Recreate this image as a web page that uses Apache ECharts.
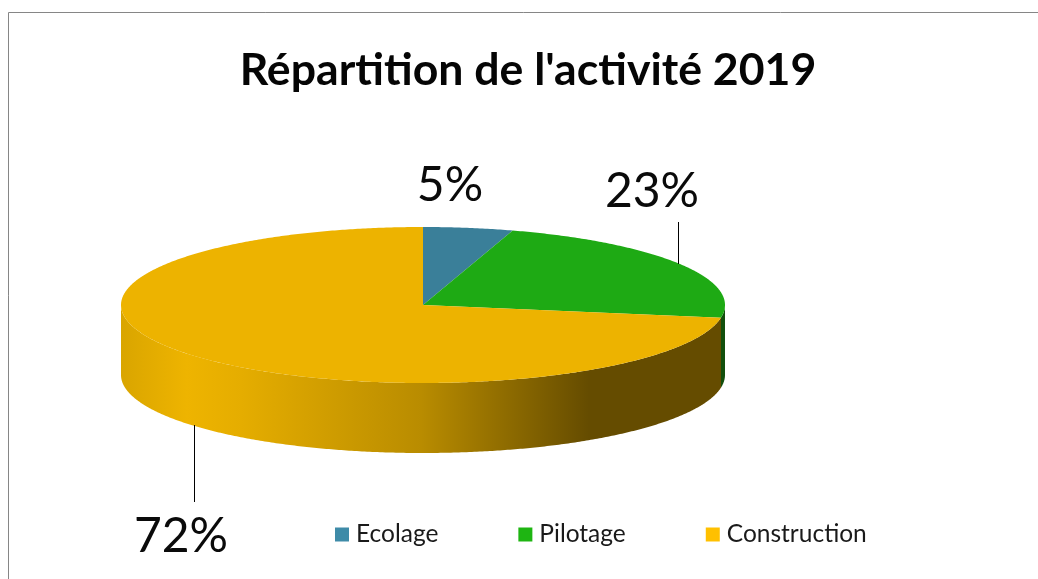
<!DOCTYPE html>
<html><head><meta charset="utf-8">
<style>html,body{margin:0;padding:0;background:#fff}#c{width:1038px;height:579px}</style>
<script src="https://cdn.jsdelivr.net/npm/echarts@6/dist/echarts.min.js"></script>
</head><body><div id="c"></div>
<script>
const titleText = "Répartition de l'activité 2019";
const categories = ['Ecolage', 'Pilotage', 'Construction'];
const values = [4.8, 22.8, 72.4];
const topColors = ['#3A7F99', '#1EAA14', '#EDB300'];
const legendColors = ['#3E8BA8', '#1EB512', '#FFC000'];
const labelPos = [[450, 186], [652, 192], [181, 537]];
const leaders = [null, [678.5, 222, 678.5, 264], [194.5, 425, 194.5, 502]];

const CX = 423, CY = 305, RX = 302, RY = 78, DEPTH = 70;
const FONT = 'Lato';
const total = values.reduce((a, b) => a + b, 0);
const pt = (deg, dy) => {
  const r = deg * Math.PI / 180;
  return [CX + RX * Math.sin(r), CY - RY * Math.cos(r) + (dy || 0)];
};
const sampleArc = (a0, a1, dy) => {
  const out = [], n = Math.max(2, Math.ceil((a1 - a0) * 2));
  for (let i = 0; i <= n; i++) out.push(pt(a0 + (a1 - a0) * i / n, dy));
  return out;
};
const spans = [];
values.reduce((acc, v) => { const e = acc + v / total * 360; spans.push([acc, e]); return e; }, 0);

const wallGradients = [
  null,
  '#124f0c',
  { type: 'linear', x: 0, y: 0, x2: 1, y2: 0, colorStops: [
    { offset: 0, color: '#d9a500' }, { offset: 0.11, color: '#eeb400' },
    { offset: 0.2, color: '#e5ad00' }, { offset: 0.5, color: '#b98c00' },
    { offset: 0.78, color: '#654c00' }, { offset: 1, color: '#654c00' } ] }
];

function renderSlice(i) {
  return function () {
    const [a0, a1] = spans[i];
    const children = [];
    const w0 = Math.max(a0, 90), w1 = Math.min(a1, 270);
    if (w1 > w0) {
      const upper = sampleArc(w0, w1, 0), lower = sampleArc(w0, w1, DEPTH).reverse();
      children.push({ type: 'polygon', shape: { points: upper.concat(lower) },
        style: { fill: wallGradients[i] }, z2: 1 });
    }
    children.push({ type: 'polygon', shape: { points: [[CX, CY]].concat(sampleArc(a0, a1, 0)) },
      style: { fill: topColors[i] }, z2: 2 });
    if (leaders[i]) {
      const [x1, y1, x2, y2] = leaders[i];
      children.push({ type: 'line', shape: { x1, y1, x2, y2 }, style: { stroke: '#000', lineWidth: 1 }, z2: 3 });
    }
    children.push({ type: 'text', x: labelPos[i][0], y: labelPos[i][1], z2: 4,
      style: { text: Math.round(values[i]) + '%', fill: '#0a0a0a', font: '48px ' + FONT, align: 'center', verticalAlign: 'middle' } });
    return { type: 'group', children };
  };
}

const chart = echarts.init(document.getElementById('c'), null, { renderer: 'canvas' });
chart.setOption({
  animation: false,
  backgroundColor: '#fff',
  title: { text: titleText, left: 523, top: 43, textAlign: 'center',
    textStyle: { fontFamily: FONT, fontWeight: 'bold', fontSize: 44.6, color: '#050505' } },
  legend: {
    data: categories.map((c, i) => ({ name: c, icon: 'rect', itemStyle: { color: legendColors[i] } })),
    left: 335, top: 522, padding: 0, itemWidth: 14, itemHeight: 14, itemGap: 80, selectedMode: false,
    textStyle: { fontFamily: FONT, fontSize: 24.5, color: '#1a1a1a', padding: [0, 0, 0, 2] }
  },
  graphic: [
    { type: 'line', shape: { x1: 8.5, y1: 12.5, x2: 1038, y2: 12.5 }, style: { stroke: '#868686', lineWidth: 1 } },
    { type: 'line', shape: { x1: 8.5, y1: 12.5, x2: 8.5, y2: 579 }, style: { stroke: '#868686', lineWidth: 1 } }
  ],
  series: categories.map((c, i) => ({
    type: 'custom', name: c, coordinateSystem: 'none', silent: true,
    data: [values[i]], itemStyle: { color: legendColors[i] }, renderItem: renderSlice(i)
  }))
});
</script></body></html>
